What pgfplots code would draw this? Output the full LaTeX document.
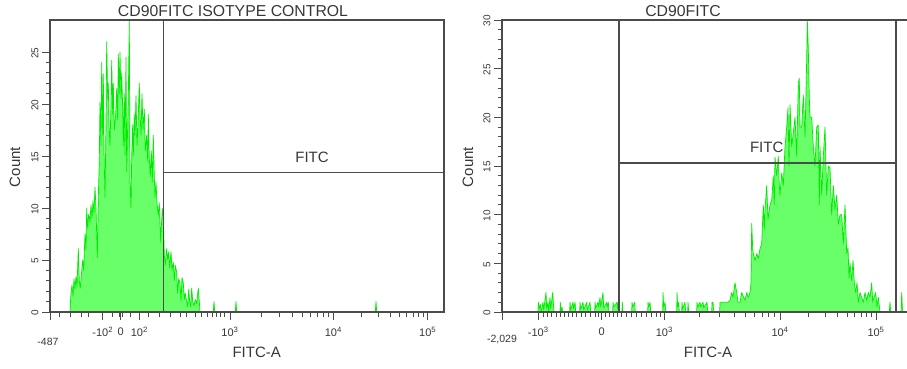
\documentclass[border=0pt]{standalone}
\usepackage{pgfplots}
\pgfplotsset{compat=1.18}
\usepackage{fontspec}
\setmainfont{Liberation Sans}
\definecolor{histfill}{RGB}{105,255,105}
\definecolor{histline}{RGB}{0,235,0}
\definecolor{axgray}{RGB}{75,75,75}
\definecolor{txtgray}{RGB}{55,55,55}
\pgfplotsset{
  flowax/.style={
    scale only axis, height=292pt, ymin=0,
    axis line style={axgray, line width=1.3pt},
    tick style={axgray, line width=0.9pt},
    tick align=outside, tick pos=left,
    major tick length=8pt, minor tick length=4pt,
    axis on top,
    x tick label style={font=\fontsize{11}{13}\selectfont, text=txtgray, yshift=-4pt},
    y tick label style={font=\fontsize{10}{11}\selectfont, text=txtgray, rotate=90, anchor=south, xshift=-1pt},
    extra x tick style={major tick length=5pt},
    extra x tick labels={},
    minor y tick num=4,
    clip=false,
  },
  hist/.style={fill=histfill, draw=histline, line width=0.7pt, line join=round},
  gate/.style={axgray, line width=1.6pt},
}
\tikzset{lab/.style={font=\fontsize{15}{17}\selectfont, text=txtgray}}
\begin{document}
\begin{tikzpicture}
\path[use as bounding box] (0,0) rectangle (907pt,369pt);
% ---------------- left panel ----------------
\begin{axis}[flowax, at={(50pt,57pt)}, anchor=south west,
  width=394pt, xmin=50, xmax=444, ymax=28.08,
  xtick={50,102.7,120.7,139.3,230,333.3,427.7},
  xticklabels={{},{-10\textsuperscript{2}},0,{10\textsuperscript{2}},{10\textsuperscript{3}},{10\textsuperscript{4}},{10\textsuperscript{5}}},
  extra x ticks={59,70.7,81,88,112,119.5,122,130.7,148.3,159.3,170,180,186.7,195,201.7,207.3,212,216,220,224,261,279.3,292.2,302.2,310.4,317.3,323.3,328.6,361.7,378.3,390.1,399.2,406.7,413,418.5,423.3},
  ytick={0,5,10,15,20,25}, yticklabels={0,5,10,15,20,25},
]
\addplot[hist] coordinates {
(70,0) (70.3,0.7) (71,1.8) (72,2.6) (73,1.5) (74,3.2) (75,2.2) (76,3.4) (77,2.4) (78.3,6.1) (79.3,3.0) (80.3,2.3) (81.3,3.5) (82.7,5.0) (83.7,4.0) (85,7.5) (86,6.0) (86.7,10.0) (87.7,8.0) (88.7,9.4) (90,8.7) (91,10.3) (92,9.0) (93,10.7) (94,9.5) (95,12.0) (96,10.0) (97.3,5.2) (98.3,11.0) (99.3,14.5) (100,20.2) (101,16.0) (101.7,24.0) (102.7,17.0) (103.3,22.9) (104,15.5) (105,11.0) (106,18.0) (106.7,26.0) (107.7,20.5) (108.3,22.0) (109,18.0) (110,16.0) (111,20.0) (111.7,24.2) (112.7,19.0) (113.3,22.0) (114.3,17.5) (115.7,19.0) (116.7,21.5) (117.7,18.5) (118.3,24.8) (119.3,21.0) (120,25.0) (121,20.5) (121.7,23.0) (122.7,19.5) (123.3,16.0) (124.3,21.0) (125,15.0) (126,24.5) (126.7,13.5) (127.7,18.0) (128.3,20.5) (129.3,28.0) (130,12.5) (131,10.0) (131.7,15.0) (132.7,18.0) (133.3,15.0) (134.3,19.0) (135,17.0) (136,20.8) (137,16.0) (138,18.0) (139.3,22.0) (140,19.0) (141,17.0) (142,21.0) (143,17.5) (144.3,19.5) (145.3,15.5) (146.7,17.0) (147.7,14.5) (148.3,19.0) (149.3,14.8) (150.3,13.0) (151.3,15.5) (152.3,12.5) (153.3,17.0) (154.3,13.0) (155,11.0) (156,12.5) (157,10.5) (158.3,9.3) (159.3,10.5) (160.7,6.7) (161.5,8.5) (162.3,10.0) (163.3,9.0) (164.3,5.5) (165.3,4.5) (166.7,6.1) (167.7,5.0) (168.7,5.8) (169.7,4.2) (171,5.8) (172,4.0) (173.3,4.8) (174.3,3.0) (175.3,4.5) (176.7,3.8) (177.7,1.8) (178.7,3.2) (180,2.8) (181,1.0) (182,3.3) (183.3,2.8) (184.3,1.2) (185.3,1.8) (186.7,1.0) (187.7,0.5) (188.7,2.2) (189.7,1.0) (190.7,0.5) (191.7,2.3) (192.7,1.0) (194,0.6) (195.3,1.2) (196.7,0.8) (198.3,2.3) (199.3,1.0) (200,0)
(213.3,0) (214,1.0) (214.7,0) (235.3,0) (236,1.0) (236.7,0) (375.3,0) (376,1.0) (376.7,0)
} \closedcycle;
\addplot[gate] coordinates {(163.3,0) (163.3,28.08)};
\addplot[gate] coordinates {(163.3,13.4) (444,13.4)};
\node[lab] at (axis cs:312,14.9) {FITC};
\end{axis}
% ---------------- right panel ----------------
\begin{axis}[flowax, at={(502pt,57pt)}, anchor=south west,
  width=408pt, xmin=502, xmax=910, ymax=30,
  xtick={502,538.3,601.7,664.3,780,876},
  xticklabels={{},{-10\textsuperscript{3}},0,{10\textsuperscript{3}},{10\textsuperscript{4}},{10\textsuperscript{5}}},
  extra x ticks={543.3,547.7,551.7,556,560,564.3,568.3,572.7,576.7,581,585,590,595,598.3,605,609.3,613.3,617.3,621.7,626.7,631.7,636.7,641.7,646.7,651.7,656.7,660,699.1,719.5,734,745.2,754.3,762.1,768.8,774.7,808.9,825.8,837.8,847.1,854.7,861.1,866.7,871.6},
  ytick={0,5,10,15,20,25,30}, yticklabels={0,5,10,15,20,25,30},
]
\addplot[hist] coordinates {
(538,0)(538.3,1)(539.3,0.3)(540.3,0.8)(541.3,0)(543,1)(543.7,0.2)(546,2)(546.7,0.3)(548,1)(548.7,0)(550,1.5)(550.7,0.3)(552.7,2)(553.3,1)(554,0)(560,0)(560.3,1)(561,0)(562,0.5)(562.7,0)(569.7,0)(570,1)(570.7,0.2)(573,1)(573.7,0.3)(575,1)(575.7,0)(579.7,0)(580,1)(580.7,0.3)(583,1)(583.7,0.2)(586.7,1)(587.3,0.2)(590,1)(590.7,0)(594.7,0)(595,1)(595.7,0.4)(598,1)(598.7,0.5)(600,1.5)(600.7,0.5)(603,2)(603.7,0.4)(606.7,1)(607.3,0.5)(608.3,1)(609,0)(612.7,0)(613,1)(613.7,0.5)(617,1)(617.7,0.3)(618.3,1)(619,0)(622,0)(622.3,1)(623,0)(631.7,0)(632,1)(632.7,0.5)(634.7,1)(635.3,0)(647.7,0)(648,1)(648.7,0.5)(650,1)(650.7,0)(662.7,0)(663,2)(663.7,0.5)(665,1)(665.7,0)(676.7,0)(677,2)(677.7,0.5)(678.7,1)(679.3,0)(681.7,0)(682,1)(682.7,0.3)(685,1)(685.7,0)(687.7,0)(688,1)(688.7,0)(696.7,0)(697,1)(697.7,0.5)(700,1)(700.7,0.5)(703,1)(703.7,0.4)(707,1)(707.7,0)(711.7,0)(712,1)(713,1)(713.7,0)(719.7,0)(720,1)(724,1)(728,1.0)(730,1.2)(731.7,2)(733,1.5)(735,3)(736.7,2)(738,1)(740,1)(741.7,2)(743.3,1.6)(745,1.2)(746.7,2)(748.3,1.5)(750,2)(751,3)(751.7,9.1)(752.7,6.5)(753.3,6)(755,5.3)(756.7,6)(758.3,5.5)(760,6.5)(761.7,7)(763.3,11)(764.3,8.5)(765,10.5)(766.7,13)(768,9.5)(770,11)(771.7,11.5)(773.3,14)(774.3,11)(775,15.9)(776.7,14)(778.3,16)(779.3,13)(780,12)(781.7,14.3)(783.3,13)(785,17)(786.7,19)(788,21)(789,15)(790,21.3)(791.7,17)(793.3,18.4)(795,20)(796.7,16)(798.3,23.5)(799.3,24)(800,19)(801.7,19)(803.3,22.3)(805,18)(806.7,26)(807.3,30)(808.3,27)(809.3,22)(810,20)(811.7,20)(813.3,17)(815,15)(816.7,19)(818.3,19.2)(819.3,11)(820,17)(821.7,12)(823.3,16)(825,19)(826.7,12)(828.3,15)(830,14.8)(831.7,10)(833.3,13)(835,10.5)(836.7,12)(838.3,9)(840,10)(841.7,10)(843.3,7)(845,11)(846.7,6)(848,6.6)(849,3.5)(850,5)(851.7,3.2)(853,5.3)(854.3,3)(855.7,2)(857,3)(858.3,1)(860,2)(861.7,1.5)(863.3,1)(865,2)(866.7,1.2)(868.3,2)(870,1.5)(871.7,3)(872.7,1)(874,1.5)(875.7,2)(877,0.5)(878.3,1.5)(880,0)(889.3,0)(890,1)(890.7,0)(901,0)(901.7,2)(902.3,0.5)(903,0)
} \closedcycle;
\addplot[gate] coordinates {(619,0) (619,30)};
\addplot[gate] coordinates {(896,0) (896,30)};
\addplot[gate] coordinates {(619,15.3) (896,15.3)};
\addplot[gate] coordinates {(896,30) (910,30)};
\node[lab] at (axis cs:766.7,16.9) {FITC};
\end{axis}
% ---------------- texts ----------------
\node[lab, font=\fontsize{15.8}{18}\selectfont] at (233pt,357.5pt) {CD90FITC ISOTYPE CONTROL};
\node[lab, font=\fontsize{15.8}{18}\selectfont] at (683pt,357.5pt) {CD90FITC};
\node[lab] at (256.7pt,17pt) {FITC-A};
\node[lab] at (708pt,17pt) {FITC-A};
\node[lab, rotate=90] at (15pt,202pt) {Count};
\node[lab, rotate=90] at (468pt,202pt) {Count};
\node[font=\fontsize{10.5}{12}\selectfont, text=txtgray] at (48pt,27pt) {-487};
\node[font=\fontsize{10.5}{12}\selectfont, text=txtgray] at (502pt,29pt) {-2,029};
\end{tikzpicture}
\end{document}
